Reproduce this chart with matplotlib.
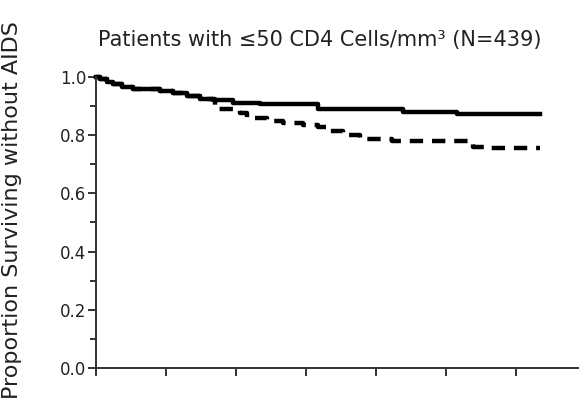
import matplotlib.pyplot as plt
import numpy as np

# step curves (time in x-tick units, proportion without AIDS)
upper_t = [0.0, 0.06, 0.16, 0.24, 0.37, 0.53, 0.91, 1.10, 1.30, 1.49, 1.67, 1.96, 2.34, 3.17, 4.39, 5.16, 6.34]
upper_s = [1.0, 0.993, 0.983, 0.976, 0.966, 0.959, 0.952, 0.945, 0.935, 0.924, 0.921, 0.911, 0.907, 0.890, 0.880, 0.873, 0.873]

lower_t = [0.0, 0.06, 0.16, 0.24, 0.37, 0.53, 0.91, 1.10, 1.30, 1.49, 1.70, 2.06, 2.16, 2.44, 2.67, 2.96, 3.17,
           3.34, 3.53, 3.77, 4.23, 5.39, 5.63, 6.34]
lower_s = [1.0, 0.993, 0.983, 0.976, 0.966, 0.959, 0.952, 0.945, 0.935, 0.924, 0.890, 0.876, 0.859, 0.849, 0.842,
           0.835, 0.828, 0.814, 0.801, 0.787, 0.780, 0.760, 0.756, 0.756]

y_ticks = [0.0, 0.2, 0.4, 0.6, 0.8, 1.0]
y_labels = ["0.0", "0.2", "0.4", "0.6", "0.8", "1.0"]
x_ticks = [0, 1, 2, 3, 4, 5, 6]

W, H = 579, 401
fig = plt.figure(figsize=(W / 100, H / 100), dpi=100)
# axes box in pixel terms: x from 96 to 578, y from 368 (0.0) up to 77 (1.0)
ax = fig.add_axes([96 / W, (H - 368) / H, (578 - 96) / W, (368 - 77) / H])

ax.step(upper_t, upper_s, where="post", color="black", lw=3.2, clip_on=False)
ax.step(lower_t, lower_s, where="post", color="black", lw=3.2, linestyle=(0, (3, 2)), clip_on=False)

ax.set_xlim(0, (578 - 96) / 70)
ax.set_ylim(0, 1.0)

for s in ["top", "right"]:
    ax.spines[s].set_visible(False)
for s in ["left", "bottom"]:
    ax.spines[s].set_color("#333333")
    ax.spines[s].set_linewidth(1.4)

ax.set_yticks(y_ticks)
ax.set_yticklabels(y_labels, fontsize=12, color="#222222")
ax.set_yticks(np.arange(0.1, 1.0, 0.2), minor=True)
ax.set_xticks(x_ticks)
ax.set_xticklabels([])
ax.tick_params(axis="both", which="major", direction="out", length=6, width=1.4, color="#333333", pad=1)
ax.tick_params(axis="y", which="minor", direction="out", length=4.5, width=1.4, color="#333333")

fig.text(320 / W, 1 - 46 / H, "Patients with \u226450 CD4 Cells/mm\u00b3 (N=439)", fontsize=15,
         ha="center", va="baseline", color="#222222")
fig.text(12 / W, 1 - 210 / H, "Proportion Surviving without AIDS", fontsize=16, rotation=90,
         ha="center", va="center", color="#222222")

fig.savefig("out.png", dpi=100)
